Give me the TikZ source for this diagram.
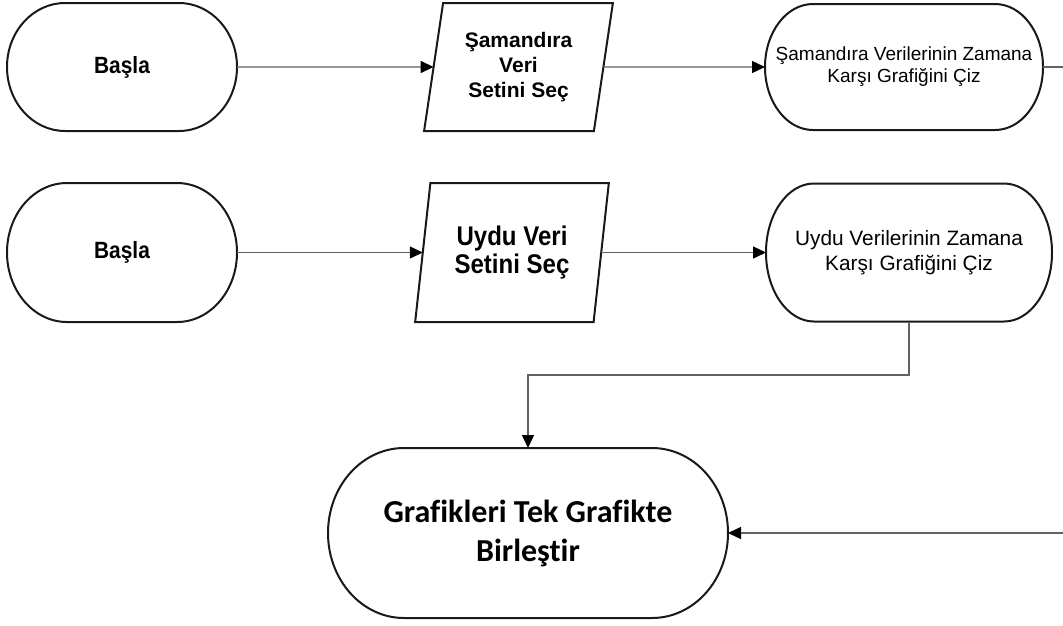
\documentclass[tikz,border=0pt]{standalone}
\usepackage{fontspec}
\setmainfont{Liberation Sans}
\newfontfamily\narrowsf[FakeStretch=0.89]{Liberation Sans}
\newfontfamily\calib[Ligatures=NoCommon]{Carlito}
\usetikzlibrary{shapes.geometric,arrows.meta,calc}
\tikzset{
  conn/.style={draw=black!62, line width=1.4pt},
  arr/.style={conn, -{Triangle[length=13pt,width=12pt,color=black]}},
  stadnode/.style={draw=none, outer sep=0pt, inner sep=0pt, align=center},
  para/.style={trapezium, trapezium stretches=true, draw=black!90, line width=2pt,
               inner sep=0pt, outer sep=0pt, align=center},
  shapeline/.style={draw=black!90, line width=2pt}
}
\newcommand{\stadborder}[2]{%
  \draw[shapeline] let \p1=(#1.north west), \p2=(#1.south east), \n1={#2}, \n2={(\y1-\y2)/2} in
    ({\x1+\n1},{\y1}) -- ({\x2-\n1},{\y1})
    arc[start angle=90,end angle=-90,x radius=\n1,y radius=\n2]
    -- ({\x1+\n1},{\y2})
    arc[start angle=270,end angle=90,x radius=\n1,y radius=\n2] -- cycle;}
\begin{document}
\begin{tikzpicture}[x=1pt,y=1pt]
\useasboundingbox[fill=white] (0,0) rectangle (1063,-625);

% row 1
\node[stadnode, minimum width=230pt, minimum height=128pt,
      font=\narrowsf\fontsize{23.5}{27}\selectfont\bfseries] (b1) at (122,-67) {Başla};
\stadborder{b1}{58pt}
\node[para, minimum width=189pt, minimum height=128pt,
      trapezium left angle=79, trapezium right angle=101,
      font=\fontsize{21}{25}\selectfont\bfseries] (p1) at (518.5,-67) {Şamandıra\\Veri\\Setini Seç};
\node[stadnode, minimum width=278pt, minimum height=126pt,
      font=\fontsize{19}{22}\selectfont] (r1) at (904,-67) {Şamandıra Verilerinin Zamana\\Karşı Grafiğini Çiz};
\stadborder{r1}{48pt}
\coordinate (e1) at (1063,-67);

% row 2
\node[stadnode, minimum width=230pt, minimum height=139pt,
      font=\narrowsf\fontsize{23.5}{27}\selectfont\bfseries] (b2) at (122,-252.5) {Başla};
\stadborder{b2}{60pt}
\node[para, minimum width=194pt, minimum height=139pt,
      trapezium left angle=78.6, trapezium right angle=101.4,
      font=\narrowsf\fontsize{27}{28}\selectfont\bfseries] (p2) at (512,-252.5) {Uydu Veri\\Setini Seç};
\node[stadnode, minimum width=286pt, minimum height=138pt,
      font=\fontsize{20.8}{25}\selectfont] (r2) at (909,-252.5) {Uydu Verilerinin Zamana\\Karşı Grafiğini Çiz};
\stadborder{r2}{48pt}

% bottom
\node[stadnode, minimum width=400pt, minimum height=170pt,
      font=\calib\fontsize{32}{39}\selectfont\bfseries] (f) at (528,-533) {Grafikleri Tek Grafikte\\Birleştir};
\stadborder{f}{76pt}
\coordinate (e2) at (1063,-533);

% connectors
\draw[arr] (b1) -- (p1);
\draw[arr] (p1) -- (r1);
\draw[conn] (r1) -- (e1);
\draw[arr] (b2) -- (p2);
\draw[arr] (p2) -- (r2);
\draw[arr] (r2.south) -- (r2.south |- 0,-375) -| (f.north);
\draw[arr] (e2) -- (f);
\end{tikzpicture}
\end{document}
